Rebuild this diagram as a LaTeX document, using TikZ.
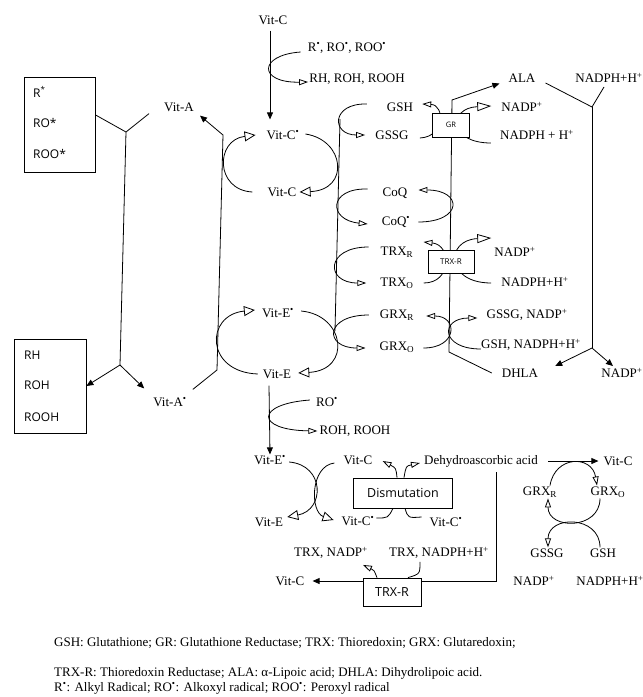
\documentclass[tikz,border=0pt]{standalone}
\usepackage{fontspec}
\setmainfont{Liberation Serif}
\newfontfamily\sansfam{Open Sans}
\usetikzlibrary{arrows.meta}
\newcommand{\rdot}{\textsuperscript{•}}
\newcommand{\pls}{\textsuperscript{+}}
\begin{document}
\begin{tikzpicture}[x=1pt,y=-1pt,
  every node/.style={inner sep=1pt, font=\fontsize{13}{13}\selectfont},
  thin line/.style={line width=0.8pt},
  sansbox/.style={draw, fill=white, line width=0.8pt, inner sep=0pt, font=\sansfam\fontsize{12.5}{13}\selectfont},
  tinybox/.style={draw, fill=white, line width=0.8pt, inner sep=0pt, font=\sansfam\fontsize{7.5}{8}\selectfont},
  plainbox/.style={draw, line width=0.8pt, inner sep=0pt},
  sanstxt/.style={anchor=west, font=\sansfam\fontsize{12}{13}\selectfont},
  arrO/.style={thin line, -{Triangle[open,length=11pt,width=10pt]}},
  arrS/.style={thin line, -{Triangle[open,length=9pt,width=6pt]}},
  arrB/.style={thin line, -{Triangle[open,length=14pt,width=9pt]}},
  arrF/.style={thin line, -{Triangle[length=7pt,width=6pt]}},
]
\useasboundingbox (0,0) rectangle (643,697);

% ---------------- left boxes ----------------
\node[plainbox, minimum width=71pt, minimum height=95pt] (radbox) at (59.5,124.5) {};
\node[sanstxt] (b1) at (32,92) {R\textsuperscript{*}};
\node[sanstxt] (b2) at (32,123) {RO*};
\node[sanstxt] (b3) at (32,154) {ROO*};
\node[plainbox, minimum width=72pt, minimum height=94pt] (prodbox) at (50,386) {};
\node[sanstxt] (p1) at (23,355) {RH};
\node[sanstxt] (p2) at (23,385) {ROH};
\node[sanstxt] (p3) at (23,417) {ROOH};

% ---------------- text nodes ----------------
\node (vitc0) at (273,20) {Vit-C};
\node (rads) at (347,48) {R\rdot, RO\rdot, ROO\rdot};
\node (rhs) at (357,79) {RH, ROH, ROOH};
\node (vitcs) at (283,135) {Vit-C\rdot};
\node (vitc1) at (282,192) {Vit-C};
\node (vita) at (179,107) {Vit-A};
\node (vitas) at (170,402) {Vit-A\rdot};
\node (vites) at (278,313) {Vit-E\rdot};
\node (vite) at (277,374) {Vit-E};
\node (ro) at (327,402) {RO\rdot};
\node (rooh) at (355,431) {ROH, ROOH};

\node (gsh) at (400,107) {GSH};
\node (gssg) at (392,135) {GSSG};
\node (ala) at (522,78) {ALA};
\node (nadph0) at (609,78) {NADPH+H\pls};
\node (nadp1) at (522,107) {NADP\pls};
\node (nadph1) at (537,135) {NADPH + H\pls};
\node (coq) at (395,193) {CoQ};
\node (coqs) at (396,222) {CoQ\rdot};
\node (trxr) at (397,252) {TRX\textsubscript{R}};
\node (trxo) at (397,283) {TRX\textsubscript{O}};
\node (nadp2) at (515,252) {NADP\pls};
\node (nadph2) at (535,282) {NADPH+H\pls};
\node (grxr) at (397,315) {GRX\textsubscript{R}};
\node (grxo) at (397,347) {GRX\textsubscript{O}};
\node (gssgn) at (527,315) {GSSG, NADP\pls};
\node (gshn) at (531,345) {GSH, NADPH+H\pls};
\node (dhla) at (520,373) {DHLA};
\node (nadp3) at (622,373) {NADP\pls};

\node (vites2) at (270,460) {Vit-E\rdot};
\node (vitc2) at (358,460) {Vit-C};
\node (vite2) at (269,522) {Vit-E};
\node (vitcs2) at (358,521) {Vit-C\rdot};
\node (vitcs3) at (446,522) {Vit-C\rdot};
\node (deh) at (481,461) {Dehydroascorbic acid};
\node (vitc3) at (618,461) {Vit-C};
\node (trxn) at (331,553) {TRX, NADP\pls};
\node (trxnh) at (439,553) {TRX, NADPH+H\pls};
\node (vitc4) at (290,581) {Vit-C};

\node (grxr2) at (540,492) {GRX\textsubscript{R}};
\node (grxo2) at (608,492) {GRX\textsubscript{O}};
\node (gssg2) at (547,553) {GSSG};
\node (gsh2) at (603,553) {GSH};
\node (nadp4) at (534,581) {NADP\pls};
\node (nadph4) at (610,581) {NADPH+H\pls};

% ---------------- coordinates ----------------
\coordinate (j1) at (126,132);
\coordinate (j2) at (120,365);
\coordinate (va1) at (223,135);
\coordinate (va2) at (217,370);
\coordinate (r1) at (340,119);
\coordinate (r2) at (335,331);
\coordinate (l2t) at (452,100);
\coordinate (l2b) at (449,352);
\coordinate (l3t) at (592,107);
\coordinate (l3b) at (592,348);
\coordinate (dh1) at ([xshift=15pt,yshift=-4pt]deh.south);
\coordinate (dh2) at (496,581);

% ---------------- Vit-A / radicals ----------------
\draw[thin line] (radbox.15) -- (j1) -- ([xshift=-14pt,yshift=-1pt]vita.south west);
\draw[thin line] (j1) -- (j2);
\draw[arrF] (j2) -- (prodbox.east);
\draw[arrF] (j2) -- ([xshift=-8pt,yshift=8pt]vitas.north west);
\draw[arrF] (va2) -- (va1) -- ([xshift=5pt,yshift=-3pt]vita.south east);
\draw[thin line] (va2) -- ([xshift=5pt,yshift=7pt]vitas.north east);

% ---------------- Vit-C top ----------------
\draw[arrF] ([xshift=-3pt,yshift=-5pt]vitc0.south) -- ([xshift=-13pt,yshift=10pt]vitcs.north);
\draw[arrS] ([xshift=-6pt,yshift=-4pt]rads.west) .. controls (258,55) and (258,83) .. ([yshift=-3pt]rhs.west);
\draw[arrO] ([xshift=5pt,yshift=1pt]vitcs.east) .. controls (345,140) and (350,190) .. ([xshift=2pt]vitc1.east);
\draw[arrO] ([xshift=-14pt]vitc1.west) .. controls (215,190) and (215,140) .. ([xshift=-10pt]vitcs.west);

% ---------------- Vit-E ----------------
\draw[arrO] ([xshift=6pt,yshift=2pt]vites.east) .. controls (345,315) and (352,370) .. ([xshift=6pt,yshift=1pt]vite.east);
\draw[arrO] ([xshift=-4pt]vite.west) .. controls (205,372) and (205,315) .. ([xshift=-6pt,yshift=3pt]vites.west);
\draw[arrF] ([xshift=-8pt,yshift=-6pt]vite.south) -- (vites2.north);
\draw[arrS] ([xshift=-5pt,yshift=2pt]ro.west) .. controls (255,404) and (255,430) .. ([xshift=-1pt]rooh.west);

% ---------------- regeneration lines ----------------
\draw[thin line] (r1) -- (r2);
\draw[arrS] ([xshift=-19pt,yshift=3pt]gsh.west) .. controls (331,103) and (331,135) .. ([xshift=-9pt]gssg.west);
\draw[arrS] ([xshift=-14pt,yshift=4pt]coq.west) .. controls (328,188) and (328,220) .. ([xshift=-13pt,yshift=-2pt]coqs.west);
\draw[arrS] ([xshift=-11pt,yshift=5pt]trxr.west) .. controls (325,247) and (325,283) .. ([xshift=-13pt]trxo.west);
\draw[arrS] ([xshift=-10pt]grxr.west) .. controls (324,315) and (324,348) .. ([xshift=-13pt,yshift=-1pt]grxo.west);

\draw[arrF] ([xshift=-9pt]dhla.west) -- (l2b) -- (l2t) -- ([xshift=-8pt]ala.south west);
\draw[thin line] ([xshift=9pt,yshift=-5pt]ala.east) -- (l3t) -- ([xshift=-5pt,yshift=-3pt]nadph0.south);
\draw[thin line] (l3t) -- (l3b);
\draw[arrF] (l3b) -- ([xshift=16pt,yshift=7pt]dhla.east);
\draw[arrF] (l3b) -- ([xshift=-9pt,yshift=1pt]nadp3.north);

% GR
\draw[arrS] ([xshift=10pt,yshift=-3pt]gssg.east) .. controls (445,137) and (445,105) .. ([xshift=8pt,yshift=3pt]gsh.east);
\draw[arrB] ([xshift=-8pt,yshift=-8pt]nadph1.west) .. controls (448,143) and (448,108) .. ([xshift=-9pt,yshift=1pt]nadp1.west);
\node[tinybox, minimum width=37pt, minimum height=24pt] (gr) at (451,125) {GR};

% CoQ right
\draw[arrS] ([xshift=7pt]coqs.east) .. controls (463,222) and (463,190) .. ([xshift=10pt,yshift=3pt]coq.east);

% TRX-R
\draw[arrS] ([xshift=9pt]trxo.east) .. controls (452,283) and (452,245) .. ([xshift=9pt,yshift=10pt]trxr.east);
\draw[arrB] ([xshift=-9pt,yshift=-1pt]nadph2.west) .. controls (445,283) and (445,240) .. ([xshift=-2pt,yshift=14pt]nadp2.west);
\node[tinybox, font=\sansfam\fontsize{8}{9}\selectfont, minimum width=46pt, minimum height=23pt] (trxrbox) at (451,262) {TRX-R};

% GRX
\draw[arrS] ([xshift=8pt,yshift=-1pt]grxo.east) .. controls (458,348) and (458,316) .. ([xshift=11pt,yshift=-1pt]grxr.east);
\draw[arrS] ([xshift=1pt,yshift=-4pt]gshn.west) .. controls (440,349) and (440,318) .. ([xshift=-8pt,yshift=-3pt]gssgn.west);

% ---------------- lower section ----------------
\draw[arrO] ([xshift=2pt,yshift=-2pt]vites2.east) .. controls (325,465) and (325,510) .. ([xshift=3pt,yshift=5pt]vite2.east);
\draw[arrO] ([xshift=-8pt,yshift=-3pt]vitc2.west) .. controls (310,466) and (310,512) .. ([xshift=-7pt,yshift=1pt]vitcs2.west);

\node[sansbox, minimum width=99pt, minimum height=30pt] (dism) at (403,493) {Dismutation};
\draw[arrS] ([xshift=-6pt]dism.north) .. controls (396,468) .. ([xshift=9pt,yshift=-1pt]vitc2.east);
\draw[arrS] ([xshift=1pt]dism.north) .. controls (406,466) .. ([xshift=-3pt,yshift=-2pt]deh.west);
\draw[thin line] ([xshift=1pt,yshift=3pt]vitcs2.east) .. controls (388,518) .. ([xshift=-10pt]dism.south);
\draw[thin line] ([xshift=-7pt,yshift=5pt]vitcs3.west) .. controls (408,518) .. ([xshift=2pt]dism.south);

\draw[arrF] ([xshift=9pt]deh.east) -- ([xshift=-4pt]vitc3.west);
\draw[arrF] (dh1) -- (dh2) -- ([xshift=7pt]vitc4.east);
\node[sansbox, minimum width=58pt, minimum height=28pt] (trxr2) at (392,592) {TRX-R};
\draw[arrS] ([xshift=-15pt]trxr2.north) .. controls (374,570) .. ([xshift=-6pt,yshift=-5pt]trxn.south east);
\draw[thin line] ([xshift=-19pt,yshift=-2pt]trxnh.south) .. controls (420,574) .. ([xshift=16pt]trxr2.north);

% GRX cycle (right)
\draw[arrS] ([xshift=10pt]grxr2.north) .. controls (555,455) and (592,455) .. ([xshift=-11pt]grxo2.north);
\draw[arrS] ([xshift=-8pt]grxo2.south) .. controls (600,530) and (548,530) .. ([xshift=8pt]grxr2.south);
\draw[arrS] ([xshift=-3pt]gsh2.north) .. controls (600,515) and (548,515) .. ([xshift=1pt]gssg2.north);

% ---------------- footnotes ----------------
\node[anchor=west] (fn1) at (53,643) {GSH: Glutathione; GR: Glutathione Reductase; TRX: Thioredoxin; GRX: Glutaredoxin;};
\node[anchor=west] (fn2) at (53,673) {TRX-R: Thioredoxin Reductase; ALA: α-Lipoic acid; DHLA: Dihydrolipoic acid.};
\node[anchor=west] (fn3) at (53,688) {R\rdot: Alkyl Radical; RO\rdot: Alkoxyl radical; ROO\rdot: Peroxyl radical};
\end{tikzpicture}
\end{document}
